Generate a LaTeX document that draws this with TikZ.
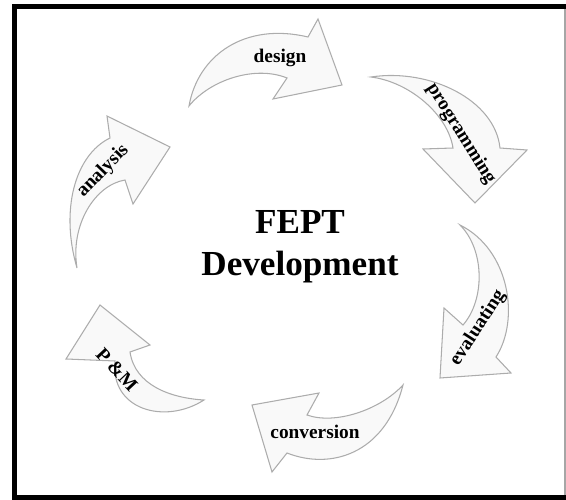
\documentclass[tikz,border=0pt]{standalone}
\usepackage{fontspec}
\setmainfont{Liberation Serif}
\usetikzlibrary{positioning}

\begin{document}
\begin{tikzpicture}[x=0.02cm, y=-0.02cm,
    bentarrow/.style={draw=gray!65, fill=gray!5, line width=0.6pt, line join=miter},
    lbl/.style={font=\bfseries\fontsize{11}{13}\selectfont, inner sep=0pt},
    title/.style={font=\bfseries\fontsize{20}{24}\selectfont, align=center}]
            \useasboundingbox (0,0) rectangle (566,500);
            % frame
            \draw[black, line width=2.8pt] (566,6.5) -- (14.5,6.5) -- (14.5,497.5) -- (566,497.5);
            \draw[gray!70, line width=0.6pt] (565,9) -- (565,495);

            % design
            \draw[bentarrow] (189,106) .. controls (198,55) and (245,22) .. (308,37)
                -- (318,19) -- (342,85) -- (273,99) -- (287,78)
                .. controls (255,65) and (210,80) .. cycle;
            % programming
            \draw[bentarrow] (371,77) .. controls (430,68) and (495,100) .. (500,148)
                -- (527,150) -- (475,203) -- (423,149) -- (453,148)
                .. controls (448,115) and (410,82) .. cycle;
            % evaluating
            \draw[bentarrow] (460,225) .. controls (510,250) and (520,320) .. (496,357)
                -- (511,373) -- (440,378) -- (444,308) -- (463,325)
                .. controls (485,300) and (485,250) .. cycle;
            % conversion
            \draw[bentarrow] (403,385) .. controls (385,455) and (330,470) .. (287,453)
                -- (272,472) -- (252,405) -- (319,393) -- (307,415)
                .. controls (335,425) and (380,410) .. cycle;
            % P&M
            \draw[bentarrow] (204,400) .. controls (165,425) and (110,410) .. (115,361)
                -- (66,359) -- (100,305) -- (150,345) -- (130,352)
                .. controls (135,385) and (170,398) .. cycle;
            % analysis
            \draw[bentarrow] (77,268) .. controls (60,210) and (75,155) .. (110,138)
                -- (107,116) -- (170,147) -- (133,204) -- (125,180)
                .. controls (95,185) and (70,225) .. cycle;

            \node[title] (fept) at (300,247) {FEPT\\Development};
            \node[lbl] (design) at (280,58) {design};
            \node[lbl, rotate=-58] (prog) at (461,134) {programming};
            \node[lbl, rotate=57] (eval) at (478,328) {evaluating};
            \node[lbl] (conv) at (315,432) {conversion};
            \node[lbl, rotate=-47] (pm) at (117,370) {P \&M};
            \node[lbl, rotate=46] (anal) at (103,171) {analysis};
        \end{tikzpicture}
\end{document}
